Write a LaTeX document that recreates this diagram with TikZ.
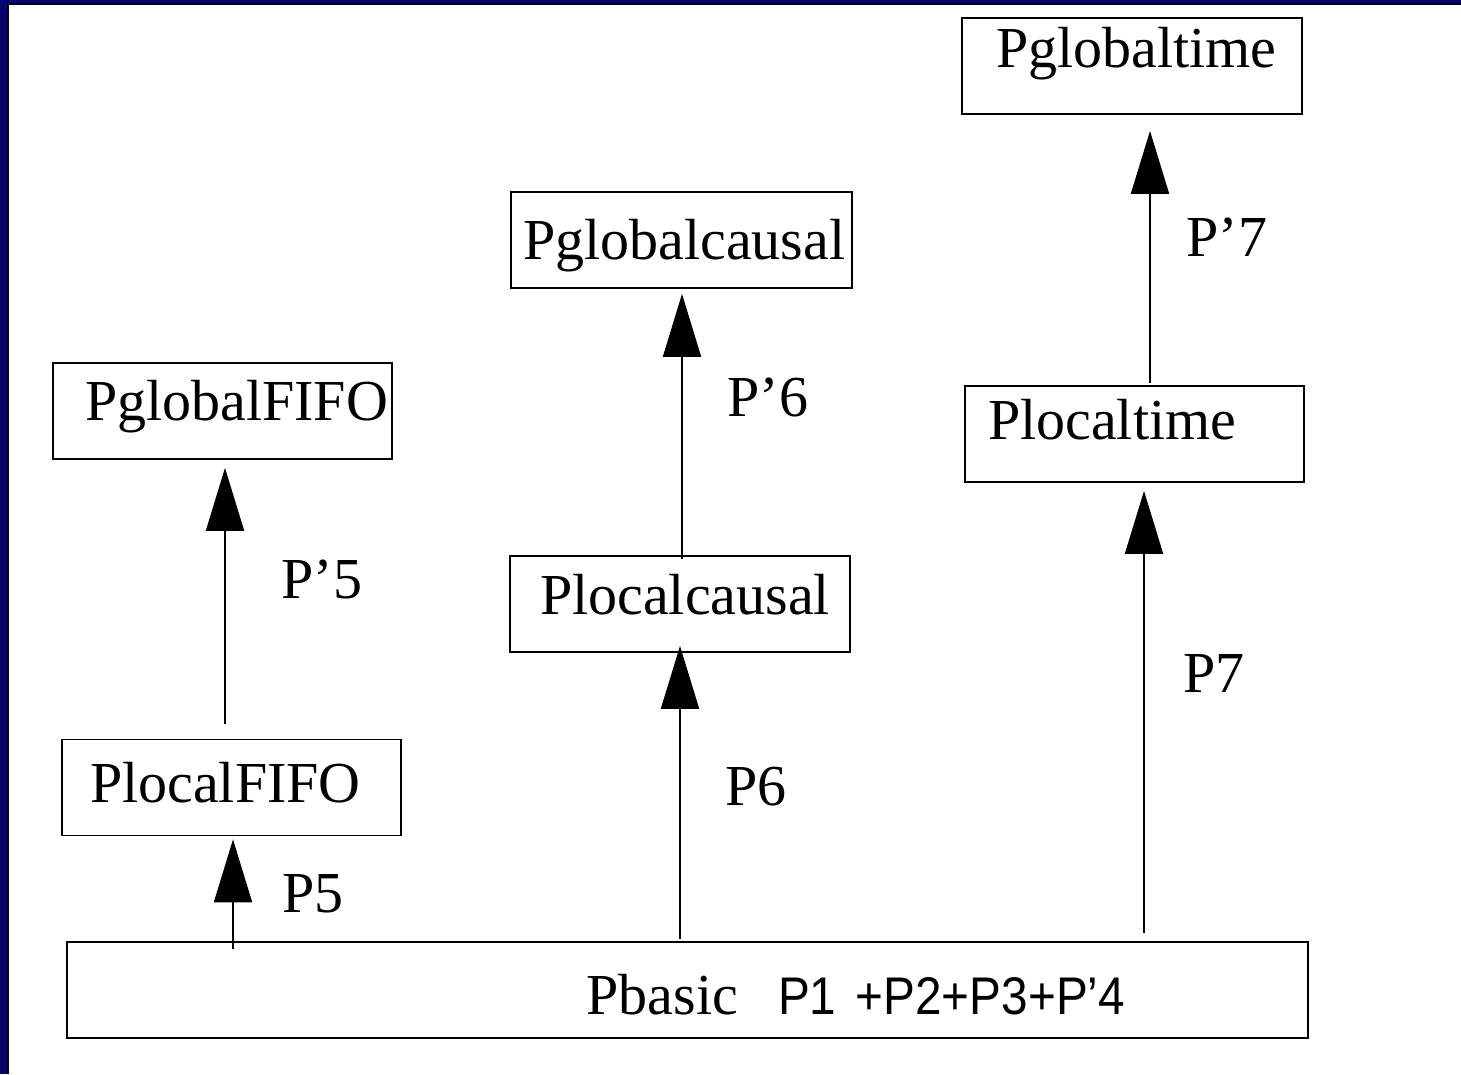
\documentclass[tikz,border=0pt]{standalone}
\usepackage{fontspec}
\setmainfont{Liberation Serif}
\newfontfamily\arialfont[FakeStretch=0.9]{Liberation Sans}
\usetikzlibrary{arrows.meta}
\definecolor{framenavy}{RGB}{4,4,110}
\tikzset{
	box/.style={draw, line width=1.8pt, minimum height=96pt, inner ysep=0pt,
		text height=38pt, text depth=0pt, align=left},
	up/.style={line width=2pt, -{Triangle[length=63pt,width=38pt]}},
	lbl/.style={anchor=base, inner sep=0pt}
}

\begin{document}
\begin{tikzpicture}[x=1pt, y=-1pt, font=\fontsize{58}{62}\selectfont]
			\useasboundingbox (0,0) rectangle (1461,1074);
			%% frame
			\fill[framenavy] (0,0) rectangle (7,1074);
			\fill[framenavy] (0,0) rectangle (1461,3);
			\draw[line width=1.5pt] (8,1074) |- (1461,3.8);
			%% boxes
			\node[box, text width=272pt, inner xsep=34pt, text depth=36pt] (gtime) at (1132,66) {Pglobaltime};
			\node[box, text width=317pt, inner xsep=12pt] (gcausal) at (681.5,240) {Pglobalcausal};
			\node[box, text width=275pt, inner xsep=32pt, text depth=20pt] (gfifo) at (222.5,411) {PglobalFIFO};
			\node[box, text width=293pt, inner xsep=23pt, text depth=28pt] (ltime) at (1134.5,434) {Plocaltime};
			\node[box, text width=280pt, inner xsep=30pt, text depth=18pt] (lcausal) at (680,604) {Plocalcausal};
			\node[box, text width=283pt, inner xsep=28pt, text depth=8pt] (lfifo) at (231.5,787.5) {PlocalFIFO};
			\node[box, text width=875pt, inner xsep=183pt, align=right, text height=48pt] (basic) at (687.5,990)
				{Pbasic\hspace{40pt}{\arialfont\fontsize{53}{55}\selectfont P1 +P2+P3+P’4}};
			%% arrows
			\draw[up, shorten <=-8pt, shorten >=3pt] (basic.north -| 233,0) -- (lfifo.south -| 233,0);
			\draw[up, shorten <=15pt, shorten >=8pt] (lfifo.north -| 225,0) -- (gfifo.south -| 225,0);
			\draw[up, shorten <=2pt, shorten >=-7pt] (basic.north -| 680,0) -- (lcausal.south -| 680,0);
			\draw[up, shorten <=-4pt, shorten >=5pt] (lcausal.north -| 682,0) -- (gcausal.south -| 682,0);
			\draw[up, shorten <=8pt, shorten >=8pt] (basic.north -| 1144,0) -- (ltime.south -| 1144,0);
			\draw[up, shorten <=2pt, shorten >=16pt] (ltime.north -| 1150,0) -- (gtime.south -| 1150,0);
			%% labels
			\node[lbl] (p5) at (313,912) {P5};
			\node[lbl] (p5b) at (322,598) {P’5};
			\node[lbl] (p6) at (756,805) {P6};
			\node[lbl] (p6b) at (768,416) {P’6};
			\node[lbl] (p7) at (1214,692) {P7};
			\node[lbl] (p7b) at (1227,256) {P’7};
\end{tikzpicture}
\end{document}
